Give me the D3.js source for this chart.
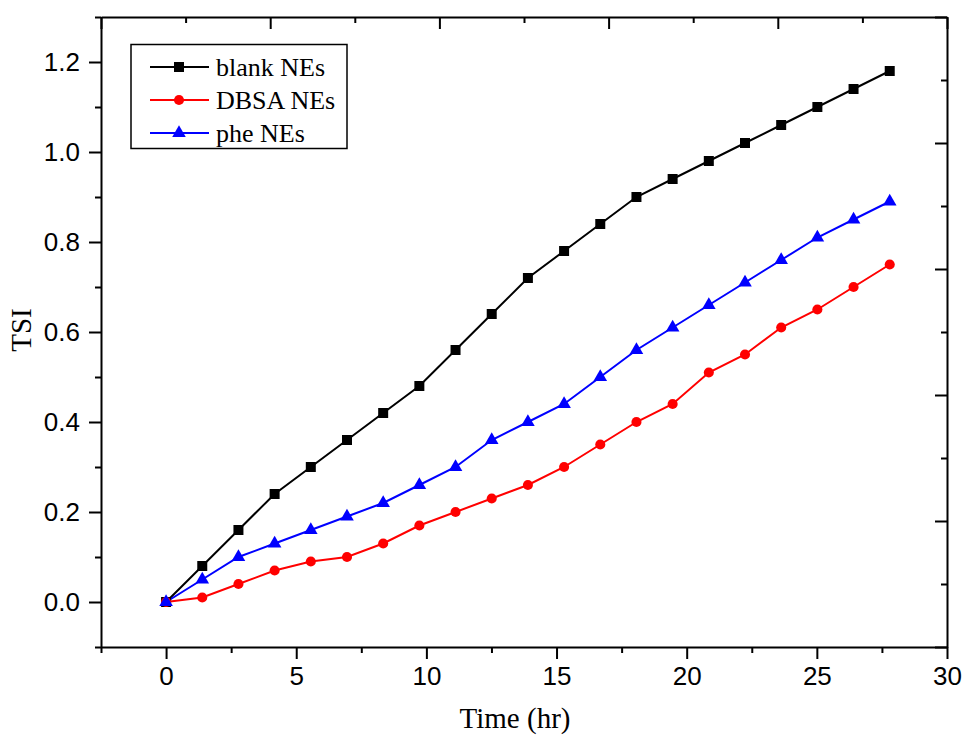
<!DOCTYPE html>
<html>
<head>
<meta charset="utf-8">
<script src="https://cdn.jsdelivr.net/npm/d3@7"></script>
<style>
  html, body { margin: 0; padding: 0; background: #fff; }
  svg { display: block; }
  .tick text { font-family: "Liberation Sans", Arial, sans-serif; font-size: 26px; fill: #000; }
  .axis path.domain { stroke: #000; stroke-width: 2; }
  .axis .tick line { stroke: #000; stroke-width: 2; }
  .title { font-family: "Liberation Serif", "Times New Roman", serif; fill: #000; }
</style>
</head>
<body>
<svg id="chart" width="963" height="740"></svg>
<script>
// Time points (hr)
const timeHr = [0, 1.39, 2.78, 4.17, 5.56, 6.95, 8.34, 9.73, 11.12, 12.51, 13.9,
                15.29, 16.68, 18.07, 19.46, 20.85, 22.24, 23.63, 25.02, 26.41, 27.8];

// TSI values per formulation
const blankNEs = [0, 0.08, 0.16, 0.24, 0.30, 0.36, 0.42, 0.48, 0.56, 0.64, 0.72,
                  0.78, 0.84, 0.90, 0.94, 0.98, 1.02, 1.06, 1.10, 1.14, 1.18];
const dbsaNEs  = [0, 0.01, 0.04, 0.07, 0.09, 0.10, 0.13, 0.17, 0.20, 0.23, 0.26,
                  0.30, 0.35, 0.40, 0.44, 0.51, 0.55, 0.61, 0.65, 0.70, 0.75];
const pheNEs   = [0, 0.05, 0.10, 0.13, 0.16, 0.19, 0.22, 0.26, 0.30, 0.36, 0.40,
                  0.44, 0.50, 0.56, 0.61, 0.66, 0.71, 0.76, 0.81, 0.85, 0.89];

const seriesNames = ["blank NEs", "DBSA NEs", "phe NEs"];

// Axis ticks
const xMajorTicks = [0, 5, 10, 15, 20, 25, 30];
const xMinorTicks = [-2.5, 2.5, 7.5, 12.5, 17.5, 22.5, 27.5];
const yMajorTicks = [0.0, 0.2, 0.4, 0.6, 0.8, 1.0, 1.2];
const yMinorTicks = [-0.1, 0.1, 0.3, 0.5, 0.7, 0.9, 1.1, 1.3];

const xTitle = "Time (hr)";
const yTitle = "TSI";

const series = [
  { name: seriesNames[0], values: blankNEs, color: "#000000", shape: d3.symbolSquare,   size: 100 },
  { name: seriesNames[1], values: dbsaNEs,  color: "#ff0000", shape: d3.symbolCircle,   size: 80 },
  { name: seriesNames[2], values: pheNEs,   color: "#0000ff", shape: d3.symbolTriangle, size: 80 }
];

const svg = d3.select("#chart");
const plotLeft = 101, plotRight = 947, plotTop = 17, plotBottom = 647;

const x = d3.scaleLinear().domain([-2.5, 30]).range([plotLeft, plotRight]);
const y = d3.scaleLinear().domain([-0.1, 1.3]).range([plotBottom, plotTop]);

// Bottom axis: labelled majors, unlabelled minors (outward)
svg.append("g").attr("class", "axis").attr("transform", `translate(0,${plotBottom})`)
  .call(d3.axisBottom(x).tickValues(xMinorTicks).tickSize(6).tickFormat(""))
  .call(g => g.select(".domain").remove());
svg.append("g").attr("class", "axis").attr("transform", `translate(0,${plotBottom})`)
  .call(d3.axisBottom(x).tickValues(xMajorTicks).tickSizeInner(12).tickSizeOuter(0)
        .tickPadding(8).tickFormat(d3.format("d")));

// Left axis
svg.append("g").attr("class", "axis").attr("transform", `translate(${plotLeft},0)`)
  .call(d3.axisLeft(y).tickValues(yMinorTicks).tickSize(6).tickFormat(""))
  .call(g => g.select(".domain").remove());
svg.append("g").attr("class", "axis").attr("transform", `translate(${plotLeft},0)`)
  .call(d3.axisLeft(y).tickValues(yMajorTicks).tickSizeInner(12).tickSizeOuter(0)
        .tickPadding(9).tickFormat(d3.format(".1f")));

// Top and right frame axes carry their own evenly spaced inward ticks
const frameX = d3.scaleLinear().domain([0, 10]).range([plotLeft, plotRight]);
const frameY = d3.scaleLinear().domain([0, 10]).range([plotBottom, plotTop]);
const evenSteps = [0, 2, 4, 6, 8, 10];
const oddSteps = [1, 3, 5, 7, 9];

svg.append("g").attr("class", "axis").attr("transform", `translate(0,${plotTop})`)
  .call(d3.axisTop(frameX).tickValues(oddSteps).tickSize(-6).tickFormat(""))
  .call(g => g.select(".domain").remove());
svg.append("g").attr("class", "axis").attr("transform", `translate(0,${plotTop})`)
  .call(d3.axisTop(frameX).tickValues(evenSteps).tickSizeInner(-12).tickSizeOuter(0).tickFormat(""));

svg.append("g").attr("class", "axis").attr("transform", `translate(${plotRight},0)`)
  .call(d3.axisRight(frameY).tickValues(oddSteps).tickSize(-6).tickFormat(""))
  .call(g => g.select(".domain").remove());
svg.append("g").attr("class", "axis").attr("transform", `translate(${plotRight},0)`)
  .call(d3.axisRight(frameY).tickValues(evenSteps).tickSizeInner(-12).tickSizeOuter(0).tickFormat(""));

// Series lines and markers
const line = d3.line().x((d, i) => x(timeHr[i])).y(d => y(d));

series.forEach(s => {
  svg.append("path")
    .datum(s.values)
    .attr("fill", "none")
    .attr("stroke", s.color)
    .attr("stroke-width", 2)
    .attr("d", line);
});
// markers go on top of every line
series.forEach(s => {
  svg.append("g").selectAll("path")
    .data(s.values)
    .join("path")
    .attr("transform", (d, i) => `translate(${x(timeHr[i])},${y(d)})`)
    .attr("d", d3.symbol().type(s.shape).size(s.size))
    .attr("fill", s.color);
});

// Axis titles
svg.append("text")
  .attr("class", "title")
  .attr("x", 515).attr("y", 728)
  .attr("text-anchor", "middle")
  .style("font-size", "29px")
  .text(xTitle);

svg.append("text")
  .attr("class", "title")
  .attr("transform", "translate(31,330) rotate(-90)")
  .attr("text-anchor", "middle")
  .style("font-size", "29px")
  .text(yTitle);

// Legend
const legend = svg.append("g");
legend.append("rect")
  .attr("x", 131).attr("y", 44.5).attr("width", 216).attr("height", 104)
  .attr("fill", "#fff").attr("stroke", "#000").attr("stroke-width", 1.5);

const rowY = d3.scalePoint().domain(seriesNames).range([67, 133]);
series.forEach(s => {
  const yy = rowY(s.name);
  legend.append("line")
    .attr("x1", 150).attr("x2", 209).attr("y1", yy).attr("y2", yy)
    .attr("stroke", s.color).attr("stroke-width", 2);
  legend.append("path")
    .attr("transform", `translate(179,${yy})`)
    .attr("d", d3.symbol().type(s.shape).size(s.size))
    .attr("fill", s.color);
  legend.append("text")
    .attr("class", "title")
    .attr("x", 216).attr("y", yy).attr("dy", "0.33em")
    .style("font-size", "26px")
    .text(s.name);
});
</script>
</body>
</html>
